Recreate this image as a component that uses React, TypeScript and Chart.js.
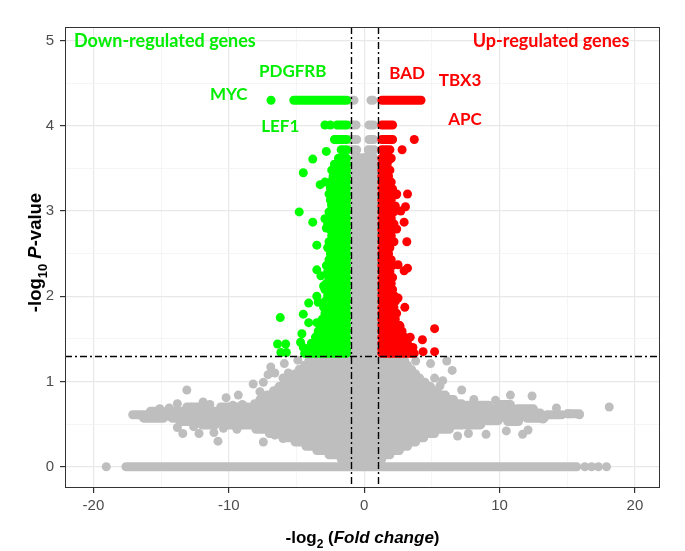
import React, { useEffect, useRef } from 'react';
import { Chart, registerables } from 'chart.js';

Chart.register(...registerables);

// ---------- axes ----------
const xMajorTicks = [-20, -10, 0, 10, 20];
const xMinorTicks = [-15, -5, 5, 15];
const yMajorTicks = [0, 1, 2, 3, 4, 5];
const yMinorTicks = [0.5, 1.5, 2.5, 3.5, 4.5];
const xLimits = [-22.1, 21.85];
const yLimits = [-0.25, 5.16];

// ---------- thresholds ----------
const foldChangeCutoff = 1;
const pValueCutoff = 1.3;

// ---------- dense runs of overlapping points: [y, xStart, xEnd] ----------
const greyRowRuns = [
  [0, -17.6, 15.7],
  [0.04, -0.9, 0.8], [0.09, -1.7, 1.3], [0.14, -2.6, 1.9], [0.19, -3.5, 2.6],
  [0.24, -4.3, 3.2], [0.29, -5.1, 3.8], [0.34, -6.0, 4.4], [0.39, -7.0, 5.2],
  [0.44, -8.0, 6.3], [0.49, -8.6, 7.3], [0.54, -8.7, 8.3], [0.59, -8.7, 8.6],
  [0.64, -8.6, 8.5], [0.69, -8.5, 8.0], [0.74, -8.1, 7.2], [0.79, -7.7, 6.6],
  [0.84, -7.2, 6.0], [0.89, -6.7, 5.4], [0.94, -6.3, 4.9], [0.99, -5.9, 4.5],
  [1.04, -5.5, 4.1], [1.09, -5.1, 3.8], [1.14, -4.8, 3.5], [1.19, -4.4, 3.2],
  [1.24, -4.1, 3.0], [1.28, -3.9, 2.8],
  // left fan band
  [0.61, -17.1, -15.6], [0.61, -15.1, -8.6],
  [0.57, -16.3, -14.8], [0.57, -14.2, -11.0], [0.57, -10.5, -8.6],
  [0.65, -15.8, -14.9], [0.65, -14.0, -12.2], [0.65, -11.6, -8.6],
  [0.53, -13.6, -12.4], [0.53, -11.6, -8.6],
  [0.70, -13.1, -12.0], [0.70, -10.6, -8.6],
  [0.49, -12.0, -11.0], [0.49, -10.3, -8.6],
  // right fan band
  [0.63, 8.5, 13.0], [0.61, 13.5, 14.6], [0.62, 15.0, 15.9],
  [0.58, 8.6, 11.4], [0.57, 12.0, 13.3],
  [0.68, 8.2, 10.6], [0.68, 11.3, 12.5],
  [0.54, 8.6, 9.9], [0.53, 10.6, 11.4],
  [0.72, 7.6, 9.2], [0.73, 10.0, 10.8],
  [0.49, 7.5, 8.6],
  // discrete top rows
  [3.72, -1.0, -0.55], [3.72, 0.3, 0.75],
  [3.84, -1.0, -0.55], [3.84, 0.35, 0.7],
  [4.01, -1.0, -0.6], [4.01, 0.35, 0.7],
  [4.30, -0.95, -0.75], [4.30, 0.5, 0.65],
];

// vertical stacks of points in the non-significant column: [x, yStart, yEnd]
const greyColumnRuns = [
  [-0.7, 0.05, 3.63], [-0.35, 0.0, 3.63], [0, 0.0, 3.63], [0.35, 0.0, 3.63], [0.7, 0.05, 3.63],
];

const greenRowRuns = [
  [4.30, -5.2, -1.3], [4.01, -2.0, -1.3], [3.84, -2.2, -1.3], [3.72, -1.7, -1.3],
  [3.62, -1.9, -1.3], [3.55, -2.2, -1.3], [3.48, -2.4, -1.3], [3.41, -2.3, -1.3],
  [3.34, -2.5, -1.3], [3.27, -2.4, -1.3], [3.20, -2.6, -1.3], [3.13, -2.5, -1.3],
  [3.06, -2.4, -1.3], [2.99, -2.6, -1.3], [2.92, -2.5, -1.3], [2.85, -2.7, -1.3],
  [2.78, -2.5, -1.3], [2.71, -2.4, -1.3], [2.64, -2.6, -1.3], [2.57, -2.7, -1.3],
  [2.50, -2.5, -1.3], [2.43, -2.6, -1.3], [2.36, -2.8, -1.3], [2.29, -2.7, -1.3],
  [2.22, -2.6, -1.3], [2.15, -2.8, -1.3], [2.08, -2.9, -1.3], [2.01, -2.7, -1.3],
  [1.94, -2.9, -1.3], [1.87, -3.0, -1.3], [1.80, -2.9, -1.3], [1.73, -3.1, -1.3],
  [1.66, -3.3, -1.3], [1.59, -3.4, -1.3], [1.52, -3.6, -1.3], [1.45, -3.9, -1.3],
  [1.38, -4.2, -1.3], [1.33, -4.4, -1.3],
];

const redRowRuns = [
  [4.30, 1.3, 4.2], [4.01, 1.3, 2.1], [3.84, 1.3, 2.1], [3.72, 1.3, 1.9],
  [3.62, 1.3, 2.0], [3.55, 1.3, 1.7], [3.48, 1.3, 1.9], [3.41, 1.3, 1.8],
  [3.34, 1.3, 2.0], [3.27, 1.3, 1.9], [3.20, 1.3, 2.1], [3.13, 1.3, 2.0],
  [3.06, 1.3, 2.3], [2.99, 1.3, 2.2], [2.92, 1.3, 2.0], [2.85, 1.3, 2.2],
  [2.78, 1.3, 2.1], [2.71, 1.3, 2.0], [2.64, 1.3, 2.2], [2.57, 1.3, 1.9],
  [2.50, 1.3, 1.8], [2.43, 1.3, 2.0], [2.36, 1.3, 2.1], [2.29, 1.3, 1.9],
  [2.22, 1.3, 2.1], [2.15, 1.3, 2.0], [2.08, 1.3, 2.1], [2.01, 1.3, 2.2],
  [1.94, 1.3, 2.3], [1.87, 1.3, 2.2], [1.80, 1.3, 2.4], [1.73, 1.3, 2.3],
  [1.66, 1.3, 2.6], [1.59, 1.3, 2.8], [1.52, 1.3, 3.0], [1.45, 1.3, 3.2],
  [1.38, 1.3, 3.5], [1.33, 1.3, 3.7],
];

// ---------- isolated points: [x, y] ----------
const greyPoints = [
  [-19.05, 0], [16.3, 0], [16.8, 0], [17.3, 0], [17.9, 0],
  [-13.1, 0.90], [-13.8, 0.74], [-11.9, 0.76], [-11.4, 0.73], [-13.8, 0.46],
  [-13.4, 0.39], [-12.2, 0.39], [-10.8, 0.30], [-11.1, 0.40], [-10.4, 0.45],
  [-9.4, 0.44], [-7.45, 0.29], [-6.6, 0.37], [-6.0, 0.33], [-7.7, 0.88],
  [-7.45, 0.99], [-7.1, 1.08], [-6.6, 1.10], [-6.0, 1.04], [-5.6, 1.10],
  [-9.0, 0.73], [-9.7, 0.72], [-15.1, 0.68], [-14.4, 0.69], [-10.2, 0.81],
  [-9.3, 0.84], [-6.9, 1.17], [-5.9, 1.21], [-4.9, 1.25], [-8.2, 0.97],
  [-12.6, 0.47],
  [10.8, 0.84], [12.4, 0.83], [8.1, 0.79], [9.7, 0.78], [6.9, 0.36],
  [7.7, 0.39], [9.0, 0.38], [10.5, 0.42], [11.7, 0.38], [12.1, 0.43],
  [14.2, 0.69], [15.1, 0.62], [15.9, 0.61], [18.1, 0.70], [4.9, 1.21],
  [6.1, 1.24], [6.5, 1.13], [3.8, 1.24], [5.2, 1.04], [5.8, 1.01],
  [5.6, 0.95], [7.2, 0.90], [13.2, 0.56],
];

const greenPoints = [
  [-6.88, 4.30], [-2.9, 4.01], [-2.5, 4.01], [-2.8, 3.70],
  [-3.8, 3.61], [-4.5, 3.45], [-3.25, 3.31], [-2.9, 3.34], [-2.5, 3.27], [-2.4, 3.08],
  [-4.8, 2.99], [-3.8, 2.87], [-2.9, 2.91], [-2.8, 2.80], [-3.5, 2.60],
  [-3.5, 2.31], [-3.2, 2.24], [-3.0, 2.12], [-2.7, 2.36],
  [-4.1, 1.92], [-3.5, 2.00], [-2.7, 1.92], [-3.4, 1.93],
  [-6.2, 1.75], [-4.5, 1.79], [-4.1, 1.69], [-3.5, 1.69], [-2.8, 1.66],
  [-4.6, 1.56], [-3.4, 1.56],
  [-6.4, 1.44], [-5.8, 1.44], [-6.15, 1.34], [-5.75, 1.34], [-4.7, 1.46], [-4.5, 1.40],
];

const redPoints = [
  [3.7, 3.84], [2.8, 3.72], [1.85, 3.60], [2.1, 3.26], [2.4, 3.20], [3.2, 3.20],
  [2.36, 3.19], [3.05, 3.05], [2.7, 3.00], [2.95, 2.87], [2.4, 2.79], [3.15, 2.64],
  [2.5, 2.37], [3.2, 2.33], [2.95, 2.30], [2.5, 1.98], [3.0, 1.87], [2.65, 1.65],
  [5.2, 1.62], [4.3, 1.49], [5.2, 1.35], [4.35, 1.35], [3.4, 1.52], [3.6, 1.40], [2.9, 1.42],
];

// ---------- annotations ----------
const groupLabels = ['Down-regulated genes', 'Up-regulated genes'];
const groupLabelX = [-14.72, 13.8];
const groupLabelY = [5.0, 5.0];
const groupLabelColor = ['#00EE00', '#FF0000'];

const geneNames = ['PDGFRB', 'MYC', 'LEF1', 'BAD', 'TBX3', 'APC'];
const geneLabelX = [-5.28, -10.0, -6.2, 3.17, 7.08, 7.45];
const geneLabelY = [4.64, 4.37, 4.0, 4.62, 4.54, 4.08];
const geneLabelColor = ['#00EE00', '#00EE00', '#00EE00', '#FF0000', '#FF0000', '#FF0000'];

const COLORS = { grey: '#BEBEBE', green: '#00FF00', red: '#FF0000' };
const DOT_RADIUS = 4.5;

function rowRunsToData(rows: number[][]) {
  const out: { x: number; y: number | null }[] = [];
  for (const [y, x1, x2] of rows) {
    out.push({ x: x1, y }, { x: x2, y }, { x: x2, y: null });
  }
  return out;
}
function columnRunsToData(cols: number[][]) {
  const out: { x: number; y: number | null }[] = [];
  for (const [x, y1, y2] of cols) {
    out.push({ x, y: y1 }, { x, y: y2 }, { x, y: null });
  }
  return out;
}
const pts = (arr: number[][]) => arr.map(([x, y]) => ({ x, y }));

function runDataset(data: any[], color: string) {
  return {
    type: 'scatter',
    data,
    showLine: true,
    spanGaps: false,
    borderColor: color,
    backgroundColor: color,
    borderWidth: DOT_RADIUS * 2,
    borderCapStyle: 'round',
    borderJoinStyle: 'round',
    pointRadius: 0,
    pointHoverRadius: 0,
    pointHitRadius: 0,
    tension: 0,
  };
}
function dotDataset(data: any[], color: string) {
  return {
    type: 'scatter',
    data,
    showLine: false,
    backgroundColor: color,
    borderColor: color,
    borderWidth: 0,
    pointRadius: DOT_RADIUS,
    pointHoverRadius: DOT_RADIUS,
  };
}

type Part = { t: string; italic?: boolean; sub?: boolean };
function drawRich(ctx: CanvasRenderingContext2D, parts: Part[], cx: number, baseline: number, size: number) {
  const fontFor = (p: Part) =>
    `${p.italic ? 'italic ' : ''}bold ${p.sub ? Math.round(size * 0.72) : size}px "Liberation Sans", Arial, sans-serif`;
  let total = 0;
  for (const p of parts) {
    ctx.font = fontFor(p);
    total += ctx.measureText(p.t).width;
  }
  let x = cx - total / 2;
  ctx.textAlign = 'left';
  ctx.textBaseline = 'alphabetic';
  for (const p of parts) {
    ctx.font = fontFor(p);
    ctx.fillText(p.t, x, baseline + (p.sub ? size * 0.3 : 0));
    x += ctx.measureText(p.t).width;
  }
}

const xTitle: Part[] = [{ t: '-log' }, { t: '2', sub: true }, { t: ' (' }, { t: 'Fold change', italic: true }, { t: ')' }];
const yTitle: Part[] = [{ t: '-log' }, { t: '10', sub: true }, { t: ' ' }, { t: 'P', italic: true }, { t: '-value' }];

const overlayPlugin = {
  id: 'overlay',
  afterDatasetsDraw(chart: any) {
    const { ctx, chartArea, scales } = chart;
    const xs = scales.x;
    const ys = scales.y;
    ctx.save();
    // threshold lines
    ctx.strokeStyle = '#000000';
    ctx.lineWidth = 1.4;
    ctx.setLineDash([7, 3, 2, 3]);
    for (const v of [-foldChangeCutoff, foldChangeCutoff]) {
      const px = Math.round(xs.getPixelForValue(v)) + 0.5;
      ctx.beginPath();
      ctx.moveTo(px, chartArea.top);
      ctx.lineTo(px, chartArea.bottom);
      ctx.stroke();
    }
    const py = Math.round(ys.getPixelForValue(pValueCutoff)) + 0.5;
    ctx.beginPath();
    ctx.moveTo(chartArea.left, py);
    ctx.lineTo(chartArea.right, py);
    ctx.stroke();
    ctx.setLineDash([]);
    // panel border
    ctx.strokeStyle = '#333333';
    ctx.lineWidth = 1;
    ctx.strokeRect(chartArea.left + 0.5, chartArea.top + 0.5, chartArea.right - chartArea.left - 1, chartArea.bottom - chartArea.top - 1);
    // annotations
    ctx.textAlign = 'center';
    ctx.textBaseline = 'alphabetic';
    ctx.font = 'bold 18px Lato, "Noto Sans", sans-serif';
    groupLabels.forEach((t, i) => {
      ctx.fillStyle = groupLabelColor[i];
      ctx.fillText(t, xs.getPixelForValue(groupLabelX[i]), ys.getPixelForValue(groupLabelY[i]) + 6.5);
    });
    ctx.font = 'bold 17px Lato, "Noto Sans", sans-serif';
    geneNames.forEach((t, i) => {
      ctx.fillStyle = geneLabelColor[i];
      ctx.fillText(t, xs.getPixelForValue(geneLabelX[i]), ys.getPixelForValue(geneLabelY[i]) + 6);
    });
    // axis titles
    ctx.fillStyle = '#000000';
    const cx = (chartArea.left + chartArea.right) / 2;
    drawRich(ctx, xTitle, cx, chartArea.bottom + 55, 17);
    const cy = (chartArea.top + chartArea.bottom) / 2 - 5;
    ctx.translate(41, cy);
    ctx.rotate(-Math.PI / 2);
    drawRich(ctx, yTitle, 0, 0, 18.5);
    ctx.restore();
  },
};

const xAllTicks = [...xMajorTicks, ...xMinorTicks].sort((a, b) => a - b);
const yAllTicks = [...yMajorTicks, ...yMinorTicks].sort((a, b) => a - b);

export default function App() {
  const ref = useRef<HTMLCanvasElement>(null);
  useEffect(() => {
    document.body.style.margin = '0';
    const canvas = ref.current;
    if (!canvas) return;
    const chart = new Chart(canvas, {
      type: 'scatter',
      data: {
        datasets: [
          dotDataset(pts(greenPoints), COLORS.green),
          dotDataset(pts(redPoints), COLORS.red),
          runDataset(rowRunsToData(greenRowRuns), COLORS.green),
          runDataset(rowRunsToData(redRowRuns), COLORS.red),
          dotDataset(pts(greyPoints), COLORS.grey),
          runDataset([...rowRunsToData(greyRowRuns), ...columnRunsToData(greyColumnRuns)], COLORS.grey),
        ] as any,
      },
      options: {
        animation: false,
        responsive: false,
        events: [],
        layout: { padding: { top: 27, right: 25, left: 0, bottom: 0 } },
        plugins: { legend: { display: false }, tooltip: { enabled: false } },
        scales: {
          x: {
            type: 'linear',
            min: xLimits[0],
            max: xLimits[1],
            afterBuildTicks: (s: any) => {
              s.ticks = xAllTicks.map((v) => ({ value: v }));
            },
            afterFit: (s: any) => {
              s.height = 63;
            },
            border: { display: false },
            grid: {
              color: (c: any) => (xMajorTicks.includes(c.tick?.value) ? '#E8E8E8' : '#F2F2F2'),
              lineWidth: (c: any) => (xMajorTicks.includes(c.tick?.value) ? 1.2 : 0.8),
              tickColor: (c: any) => (xMajorTicks.includes(c.tick?.value) ? '#333333' : 'rgba(0,0,0,0)'),
              tickLength: 5,
              drawTicks: true,
            },
            ticks: {
              autoSkip: false,
              maxRotation: 0,
              padding: 4,
              color: '#4D4D4D',
              font: { family: '"Liberation Sans", Arial, sans-serif', size: 15 },
              callback: (v: any) => (xMajorTicks.includes(v) ? String(v) : ''),
            },
          },
          y: {
            type: 'linear',
            min: yLimits[0],
            max: yLimits[1],
            afterBuildTicks: (s: any) => {
              s.ticks = yAllTicks.map((v) => ({ value: v }));
            },
            afterFit: (s: any) => {
              s.width = 65;
            },
            border: { display: false },
            grid: {
              color: (c: any) => (yMajorTicks.includes(c.tick?.value) ? '#E8E8E8' : '#F2F2F2'),
              lineWidth: (c: any) => (yMajorTicks.includes(c.tick?.value) ? 1.2 : 0.8),
              tickColor: (c: any) => (yMajorTicks.includes(c.tick?.value) ? '#333333' : 'rgba(0,0,0,0)'),
              tickLength: 5,
              drawTicks: true,
            },
            ticks: {
              autoSkip: false,
              padding: 6,
              color: '#4D4D4D',
              font: { family: '"Liberation Sans", Arial, sans-serif', size: 15 },
              callback: (v: any) => (yMajorTicks.includes(v) ? String(v) : ''),
            },
          },
        },
      } as any,
      plugins: [overlayPlugin],
    });
    if ((document as any).fonts?.ready) {
      (document as any).fonts.ready.then(() => {
        if ((chart as any).ctx) chart.draw();
      });
    }
    return () => chart.destroy();
  }, []);
  return (
    <div style={{ width: 685, height: 551 }}>
      <canvas ref={ref} width={685} height={551} style={{ display: 'block' }} />
    </div>
  );
}
